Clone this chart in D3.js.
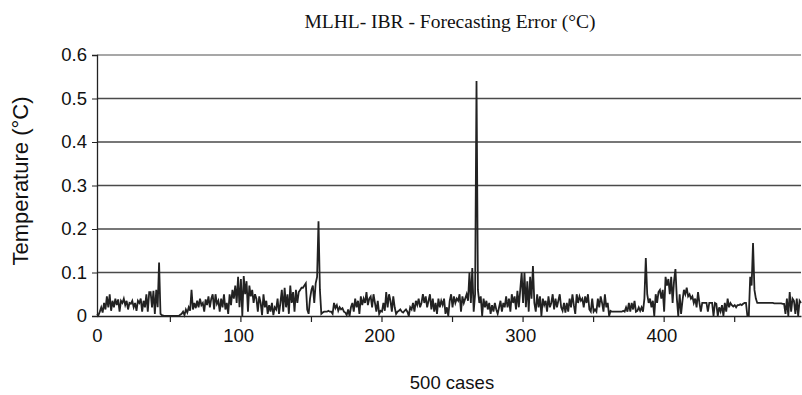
<!DOCTYPE html>
<html>
<head>
<meta charset="utf-8">
<script src="https://cdn.jsdelivr.net/npm/d3@7"></script>
<style>
  body { margin: 0; background: #fff; }
  svg { display: block; }
</style>
</head>
<body>
<div id="chart"></div>
<script>
// forecasting error per case (cases 0..499)
const errors = [
  0.005,0.002,0.01,0.02,0.008,0.03,0.015,0.045,0.02,0.05,
  0.012,0.035,0.02,0.04,0.025,0.038,0.01,0.035,0.03,0.04,
  0.025,0.035,0.015,0.03,0.028,0.035,0.02,0.03,0.012,0.035,
  0.03,0.04,0.01,0.035,0.02,0.05,0.01,0.055,0.055,0.02,
  0.058,0.005,0.06,0.02,0.123,0.005,0.002,0.001,0,0,
  0,0,0,0,0,0,0,0,0,0.003,
  0.005,0.01,0.002,0.015,0.008,0.02,0.012,0.06,0.015,0.03,
  0.018,0.035,0.02,0.04,0.025,0.03,0.01,0.038,0.025,0.045,
  0.02,0.04,0.05,0.015,0.05,0.028,0.035,0.01,0.04,0.02,
  0.05,0.015,0.03,0.005,0.05,0.025,0.06,0.04,0.07,0.03,
  0.09,0.02,0.085,0.0,0.092,0.05,0.08,0.01,0.07,0.045,
  0.06,0.03,0.05,0.04,0.01,0.045,0.03,0.002,0.05,0.02,
  0.035,0.005,0.025,0.01,0.03,0.002,0.02,0.015,0.04,0.005,
  0.03,0.06,0.01,0.065,0.02,0.05,0.005,0.07,0.03,0.055,
  0.01,0.06,0.03,0.055,0.06,0.065,0.065,0.07,0.075,0.015,
  0.005,0.04,0.06,0.07,0.03,0.075,0.09,0.218,0.06,0.005,
  0.008,0.01,0.01,0.01,0.012,0.01,0.01,0.005,0.03,0.018,
  0.025,0.012,0.02,0.015,0.018,0.01,0.008,0.002,0.015,0.0,
  0.02,0.03,0.01,0.04,0.02,0.035,0.005,0.045,0.025,0.04,
  0.03,0.055,0.025,0.04,0.045,0.02,0.05,0.03,0.01,0.035,
  0.005,0.012,0.01,0.03,0.012,0.055,0.02,0.05,0.035,0.01,
  0.045,0.02,0.005,0.01,0.012,0.015,0.01,0.008,0.012,0.015,
  0.01,0.0,0.02,0.015,0.03,0.01,0.035,0.025,0.04,0.02,
  0.03,0.05,0.03,0.045,0.02,0.035,0.05,0.015,0.04,0.01,
  0.03,0.005,0.04,0.02,0.035,0.025,0.04,0.005,0.02,0.0,
  0.035,0.05,0.02,0.045,0.03,0.04,0.035,0.05,0.01,0.045,
  0.03,0.04,0.05,0.035,0.1,0.03,0.11,0.01,0.05,0.54,
  0.06,0.03,0.045,0.0,0.04,0.02,0.035,0.015,0.03,0.005,
  0.025,0.01,0.03,0.015,0.005,0.02,0.035,0.01,0.03,0.02,
  0.045,0.02,0.04,0.01,0.05,0.03,0.045,0.015,0.058,0.02,
  0.06,0.1,0.03,0.1,0.02,0.08,0.01,0.09,0.04,0.115,
  0.03,0.01,0.05,0.02,0.045,0.0,0.04,0.025,0.035,0.01,
  0.045,0.02,0.03,0.05,0.015,0.04,0.02,0.035,0.05,0.02,
  0.012,0.03,0.008,0.03,0.01,0.04,0.02,0.05,0.025,0.005,
  0.05,0.03,0.045,0.035,0.04,0.02,0.045,0.03,0.05,0.015,
  0.01,0.04,0.01,0.015,0.01,0.04,0.02,0.045,0.03,0.01,
  0.05,0.02,0.03,0.0,0.012,0.01,0.01,0.01,0.01,0.01,
  0.01,0.01,0.01,0.012,0.01,0.02,0.01,0.03,0.01,0.03,
  0.015,0.035,0.01,0.012,0.02,0.012,0.02,0.01,0.04,0.133,
  0.05,0.03,0.04,0.02,0.035,0.0,0.05,0.03,0.055,0.06,
  0.04,0.06,0.01,0.09,0.07,0.085,0.05,0.09,0.03,0.08,
  0.108,0.04,0.0,0.05,0.005,0.035,0.06,0.05,0.065,0.045,
  0.05,0.04,0.045,0.03,0.04,0.02,0.055,0.03,0.01,0.03,
  0.03,0.03,0.03,0.01,0.03,0.03,0.03,0.0,0.03,0.028,
  0.0,0.02,0.01,0.025,0.0,0.03,0.01,0.04,0.02,0.03,
  0.025,0.022,0.025,0.02,0.025,0.025,0.027,0.025,0.028,0.03,
  0.03,0.0,0.0,0.09,0.07,0.168,0.06,0.04,0.03,0.03,
  0.03,0.03,0.03,0.03,0.03,0.03,0.03,0.03,0.03,0.03,
  0.029,0.029,0.029,0.029,0.029,0.029,0.028,0.028,0.005,0.04,
  0.0,0.055,0.01,0.04,0.035,0.005,0.04,0.0,0.035,0.03
];
const yTicks = [0, 0.1, 0.2, 0.3, 0.4, 0.5, 0.6];
const xLabels = [0, 100, 200, 300, 400];
const xMinorTicks = [52, 102, 152, 202, 252, 302, 352, 402, 452];

const width = 802, height = 395;
const padding = {left: 97, right: 1, top: 55, bottom: 79};
const sans = 'Liberation Sans, Arial, sans-serif';

var svg = d3.select('#chart')
            .append('svg')
            .attr('width', width)
            .attr('height', height);

var xScale = d3.scaleLinear()
        .domain([0, errors.length - 1])
        .range([padding.left, width - padding.right]);
var yScale = d3.scaleLinear()
        .domain([0, 0.6])
        .range([height - padding.bottom, padding.top]);

// gridlines
svg.append('g')
   .selectAll('line')
   .data(yTicks.filter(d => d > 0))
   .enter()
   .append('line')
   .attr('x1', padding.left)
   .attr('x2', width - padding.right)
   .attr('y1', d => yScale(d))
   .attr('y2', d => yScale(d))
   .attr('stroke', d => d === 0.6 ? '#8a8a8a' : '#4a4a4a')
   .attr('stroke-width', 1.4);

// data line
var line = d3.line()
        .x((d, i) => xScale(i))
        .y(d => yScale(d));
svg.append('path')
   .datum(errors)
   .attr('d', line)
   .attr('fill', 'none')
   .attr('stroke', '#222')
   .attr('stroke-width', 1.8)
   .attr('stroke-linejoin', 'miter');

// y axis
var yAxis = svg.append('g')
   .attr('transform', 'translate(' + padding.left + ',0)')
   .call(d3.axisLeft(yScale).tickValues(yTicks).tickSize(5).tickPadding(5)
            .tickFormat(d => d === 0 ? '0' : d3.format('.1f')(d)));
yAxis.select('.domain').attr('stroke', '#222').attr('stroke-width', 1.3);
yAxis.selectAll('.tick line').attr('stroke', '#222');
yAxis.selectAll('text')
     .attr('font-family', sans)
     .attr('font-size', 18.5)
     .attr('fill', '#111');

// x axis
var xAxis = svg.append('g')
   .attr('transform', 'translate(0,' + yScale(0) + ')')
   .call(d3.axisBottom(xScale).tickValues(xLabels).tickSize(0).tickPadding(13)
            .tickSizeOuter(0));
xAxis.select('.domain').attr('stroke', '#222').attr('stroke-width', 1.4);
xAxis.selectAll('text')
     .attr('font-family', sans)
     .attr('font-size', 18.5)
     .attr('fill', '#111');

svg.append('g')
   .selectAll('line')
   .data(xMinorTicks)
   .enter()
   .append('line')
   .attr('x1', d => xScale(d))
   .attr('x2', d => xScale(d))
   .attr('y1', yScale(0))
   .attr('y2', yScale(0) + 6)
   .attr('stroke', '#222')
   .attr('stroke-width', 1.2);

// titles
svg.append('text')
   .text('MLHL- IBR - Forecasting Error (°C)')
   .attr('x', 450)
   .attr('y', 28)
   .attr('text-anchor', 'middle')
   .attr('font-family', 'Liberation Serif, Times New Roman, serif')
   .attr('font-size', 19.5)
   .attr('fill', '#111');

svg.append('text')
   .text('Temperature (°C)')
   .attr('transform', 'translate(28,181) rotate(-90)')
   .attr('text-anchor', 'middle')
   .attr('font-family', sans)
   .attr('font-size', 22)
   .attr('fill', '#111');

svg.append('text')
   .text('500 cases')
   .attr('x', 452)
   .attr('y', 389)
   .attr('text-anchor', 'middle')
   .attr('font-family', sans)
   .attr('font-size', 18.5)
   .attr('fill', '#111');
</script>
</body>
</html>
